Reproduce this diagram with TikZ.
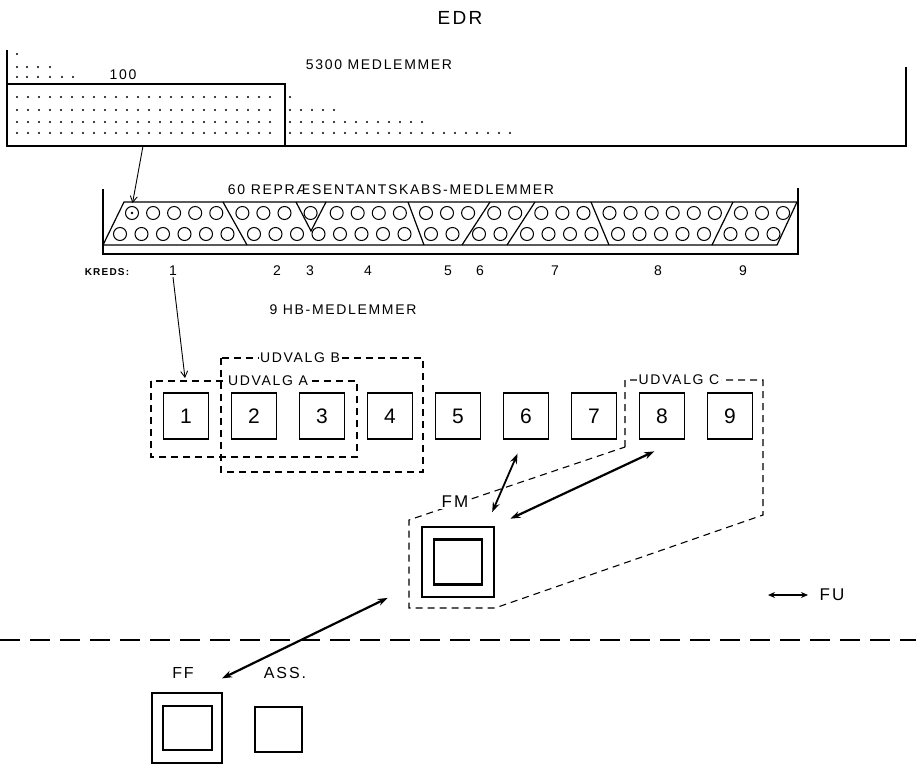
\documentclass[tikz,border=0pt]{standalone}
\usepackage{fontspec}
\setmainfont{Liberation Sans}[LetterSpace=12]
\usetikzlibrary{arrows.meta}

\tikzset{
	numbox/.style={draw, line width=1.8pt, minimum width=45pt, minimum height=46pt, inner sep=0pt, font=\fontsize{21}{21}\selectfont},
	rep/.style={draw, circle, line width=1pt, minimum size=13pt, inner sep=0pt},
	grp/.style={line width=1.1pt, dash pattern=on 7pt off 5pt},
	grplabel/.style={fill=white, inner sep=1.5pt, font=\fontsize{14}{14}\selectfont},
	lbl/.style={inner sep=1pt, font=\fontsize{14}{14}\selectfont},
	link/.style={line width=2.2pt, {Stealth[length=10pt,width=7pt]}-{Stealth[length=10pt,width=7pt]}},
	pointer/.style={line width=0.9pt, -{Straight Barb[length=6pt,width=7pt]}},
}

\begin{document}
\begin{tikzpicture}[x=1pt,y=-1pt]
			\useasboundingbox (0,0) rectangle (916,765);
			\node[font=\fontsize{19}{19}\selectfont] (edr) at (460,18) {EDR};
			% members
			\draw[line width=1.3pt] (7,50) -- (7,146) -- (906,146) -- (906,67);
			\draw[line width=1.3pt] (7,84) -- (285,84) -- (285,146);
			\node[lbl] (hundred) at (123,75) {100};
			\node[lbl] (total) at (379,65) {5300 MEDLEMMER};
			\fill (17,54) circle (1.2pt);
			\foreach \x in {17,27,38,50} {\fill (\x,67) circle (1.2pt);};
			\foreach \x in {17,27,38,50,62,73} {\fill (\x,77) circle (1.2pt);};
			\foreach \y in {97,110,122,133} {\foreach \x in {17,28,...,280} {\fill (\x,\y) circle (1.2pt);};};
			\fill (290,97) circle (1.2pt);
			\foreach \x in {290,301,...,334} {\fill (\x,110) circle (1.2pt);};
			\foreach \x in {290,301,...,422} {\fill (\x,122) circle (1.2pt);};
			\foreach \x in {290,301,...,510} {\fill (\x,133) circle (1.2pt);};
			% representatives
			\node[lbl] (reptitle) at (391,190) {60 REPRÆSENTANTSKABS-MEDLEMMER};
			\draw[line width=1.2pt] (103,189) -- (103,254) -- (798,254) -- (798,188);
			\draw[line width=1.2pt] (124,202) -- (797,202) -- (777,245) -- (103,245) -- cycle;
			\foreach \a/\b in {223/247,408/424,490/462,535/507,591/609,733/712} {\draw[line width=1.2pt] (\a,202) -- (\b,245);};
			\draw[line width=1.2pt] (296,202) -- (311,231) -- (326,202);
			\foreach \x [count=\n] in {132,153.1,174.1,195.2,216.3,242.4,263.4,284.5,310.6,336.7,357.7,378.8,399.9,426.0,447.0,468.1,494.2,515.2,541.3,562.4,583.5,609.5,630.6,651.7,672.7,693.8,714.9,740.9,762.0,783.1} {\node[rep] (r\n) at (\x,213) {};};
			\foreach \x [count=\n] in {120,141.5,163,184.5,206,227.5,254,275.5,297,318.5,340,361.5,383,404.5,431,452.5,479,500.5,527,548.5,570,591.5,618,639.5,661,682.5,704,730.5,752,773.5} {\node[rep] (s\n) at (\x,234) {};};
			\fill (r1) circle (1.3pt);
			\node[font=\bfseries\fontsize{10}{10}\selectfont, inner sep=1pt] (kreds) at (107,272) {KREDS:};
			\foreach \x [count=\n] in {173,277,310,368,448,480,555,658,743} {\node[lbl] (k\n) at (\x,271) {\n};};
			\coordinate (drop) at (143,146);
			\draw[pointer, shorten >=3pt] (drop) -- (r1.north);
			% board
			\node[lbl] (hbtitle) at (343,310) {9 HB-MEDLEMMER};
			\foreach \i in {1,...,9} {\node[numbox] (b\i) at ({186+68*(\i-1)},416) {\i};};
			\coordinate (udvtip) at (185,378);
			\draw[pointer] (k1.south) -- (udvtip);
			\draw[grp] (221,358) rectangle (423,472);
			\draw[grp] (151,381) rectangle (357,457);
			\node[grplabel] (udvb) at (300,358) {UDVALG B};
			\node[grplabel] (udva) at (268,381) {UDVALG A};
			\draw[grp] (625,447) -- (625,380) -- (763,380) -- (763,515) -- (495,608) -- (409,608) -- (409,520) -- cycle;
			\node[grplabel] (udvc) at (679,380) {UDVALG C};
			\node[grplabel, font=\fontsize{17}{17}\selectfont] (fmlabel) at (455,502) {FM};
			\node[draw, line width=2.2pt, minimum width=72pt, minimum height=70pt] (fm) at (458,562) {};
			\node[draw, line width=2.2pt, minimum width=48pt, minimum height=45pt] (fmin) at (fm) {};
			\draw[link, line width=1.8pt, shorten <=15pt, shorten >=15pt] (b6.-96) -- (fm.52);
			\draw[link, shorten <=27pt, shorten >=17pt] (b8.-55) -- (fm.north east);
			\coordinate (fua) at (768,595);
			\coordinate (fub) at (808,595);
			\draw[link, line width=1.5pt, {Stealth[length=7pt,width=6pt]}-{Stealth[length=7pt,width=6pt]}] (fua) -- (fub);
			\node[lbl, font=\fontsize{17}{17}\selectfont] (fu) at (832,595) {FU};
			\draw[line width=2pt, dash pattern=on 20pt off 10pt] (0,640) -- (916,640);
			% assembly
			\node[lbl, font=\fontsize{16}{16}\selectfont] (fflabel) at (183,673) {FF};
			\node[lbl, font=\fontsize{16}{16}\selectfont] (asslabel) at (285,673) {ASS.};
			\node[draw, line width=1.3pt, minimum width=70pt, minimum height=70pt] (ff) at (187,728) {};
			\node[draw, line width=1.3pt, minimum width=49pt, minimum height=44pt] (ffin) at (187.5,728) {};
			\node[draw, line width=1.3pt, minimum width=47pt, minimum height=45pt] (ass) at (278.5,729.5) {};
			\draw[link, shorten <=37pt, shorten >=32pt] (fm.208) -- (ff.80);
		\end{tikzpicture}
\end{document}
